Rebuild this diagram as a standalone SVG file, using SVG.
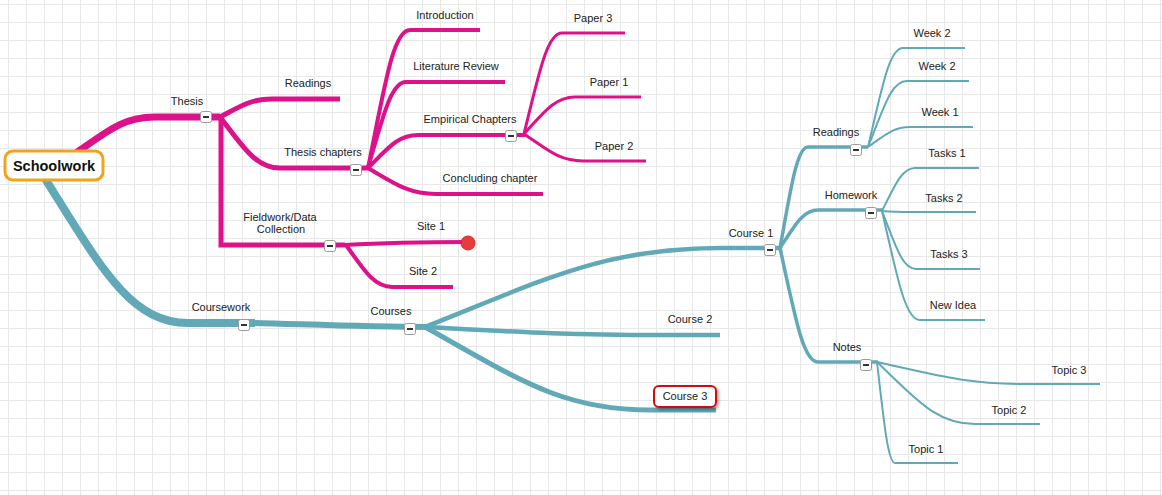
<svg xmlns="http://www.w3.org/2000/svg" width="1162" height="495" viewBox="0 0 1162 495">
<style>
.lbl{font-family:"Liberation Sans",Arial,sans-serif;font-size:11px;fill:#222;text-anchor:middle}
.m{fill:none;stroke:#dd1189;stroke-linecap:butt}
.t{fill:none;stroke:#62a9b7;stroke-linecap:butt}
</style>
<defs>
<pattern id="grid" patternUnits="userSpaceOnUse" x="8" y="4" width="18" height="18">
<path d="M0 0.5H18M0.5 0V18" fill="none" stroke="#e8e8e8" stroke-width="1"/>
</pattern>
<filter id="sh" x="-20%" y="-40%" width="150%" height="190%">
<feDropShadow dx="2" dy="2" stdDeviation="1.5" flood-color="#000" flood-opacity="0.35"/>
</filter>
<g id="b"><rect x="-5.5" y="-5.5" width="11" height="11" rx="2" fill="#fff" stroke="#9a9a9a" stroke-width="1"/><path d="M-3 0H3" stroke="#333" stroke-width="2"/></g>
</defs>
<rect width="1162" height="495" fill="#fff"/>
<rect width="1162" height="495" fill="url(#grid)"/>

<g id="connectors">
<path class="m" stroke-width="7" d="M76 153C109 130 124 117 155 117H220"/>
<path class="m" stroke-width="5" d="M220 117C241 106 251 99 272 99H340"/>
<path class="m" stroke-width="5" d="M220 117C244 148 256 168 280 168H370"/>
<path class="m" stroke-width="5" d="M221 117V245H345"/>
<path class="m" stroke-width="4" d="M368 168C385 85 393 30 410 30H480"/>
<path class="m" stroke-width="4" d="M368 168C383 116 391 82 406 82H505"/>
<path class="m" stroke-width="4" d="M368 168C388 148 398 135 418 135H525"/>
<path class="m" stroke-width="4" d="M368 168C395 184 409 194 436 194H543"/>
<path class="m" stroke-width="3" d="M524 134C539 73 547 33 562 33H625"/>
<path class="m" stroke-width="3" d="M524 134C544 112 555 97 575 97H641"/>
<path class="m" stroke-width="3" d="M524 134C548 150 559 161 583 161H646"/>
<path class="m" stroke-width="4" d="M345 245C380 243 400 242 468 242"/>
<path class="m" stroke-width="4" d="M346 245C364 270 374 287 392 287H453"/>

<path class="t" stroke-width="8" d="M44 177C100 266 130 323 188 323H255"/>
<path class="t" stroke-width="6" d="M255 323C300 324 360 327 430 327"/>
<path class="t" stroke-width="4.5" d="M425 327C544 280 603 248 722 248H780"/>
<path class="t" stroke-width="4.5" d="M425 327C519 332 566 335 660 335H720"/>
<path class="t" stroke-width="5" d="M425 327C515 377 560 410 650 410H716"/>
<path class="t" stroke-width="3.5" d="M780 248C791 187 797 147 808 147H868"/>
<path class="t" stroke-width="3.5" d="M780 248C795 225 803 210 818 210H882"/>
<path class="t" stroke-width="3.5" d="M780 248C795 316 803 362 818 362H878"/>
<path class="t" stroke-width="2" d="M868 147C882 88 889 48 903 48H965"/>
<path class="t" stroke-width="2" d="M868 147C884 107 891 81 907 81H969"/>
<path class="t" stroke-width="2" d="M868 147C885 135 893 127 910 127H973"/>
<path class="t" stroke-width="2" d="M882 211C895 185 902 168 915 168H979"/>
<path class="t" stroke-width="2" d="M882 211C894 212 900 212 912 212H976"/>
<path class="t" stroke-width="2" d="M882 211C896 246 902 269 916 269H980"/>
<path class="t" stroke-width="2" d="M882 211C897 276 905 320 920 320H985"/>
<path class="t" stroke-width="2" d="M877 362C936 375 966 384 1025 384H1100"/>
<path class="t" stroke-width="2" d="M877 362C916 399 936 424 975 424H1040"/>
<path class="t" stroke-width="2" d="M877 362C884 423 888 463 895 463H958"/>
</g>

<g id="schoolwork">
<rect x="5" y="151" width="98" height="29" rx="8" fill="#fff" stroke="#f0a31c" stroke-width="3"/>
<text x="54" y="171" font-family="'Liberation Sans',Arial,sans-serif" font-size="14.5" font-weight="bold" fill="#111" text-anchor="middle">Schoolwork</text>
</g>
<g id="thesis"><text class="lbl" x="187" y="105">Thesis</text><use href="#b" x="206" y="117"/></g>
<g id="readings-thesis"><text class="lbl" x="308" y="87">Readings</text></g>
<g id="thesis-chapters"><text class="lbl" x="323" y="156">Thesis chapters</text><use href="#b" x="356" y="170"/></g>
<g id="fieldwork"><text class="lbl" x="280" y="221">Fieldwork/Data</text><text class="lbl" x="281" y="233">Collection</text><use href="#b" x="330" y="246"/></g>
<g id="introduction"><text class="lbl" x="445" y="19">Introduction</text></g>
<g id="literature-review"><text class="lbl" x="456" y="70">Literature Review</text></g>
<g id="empirical"><text class="lbl" x="470" y="123">Empirical Chapters</text><use href="#b" x="511" y="136"/></g>
<g id="concluding"><text class="lbl" x="490" y="182">Concluding chapter</text></g>
<g id="paper3"><text class="lbl" x="593" y="22">Paper 3</text></g>
<g id="paper1"><text class="lbl" x="609" y="86">Paper 1</text></g>
<g id="paper2"><text class="lbl" x="614" y="150">Paper 2</text></g>
<g id="site1"><text class="lbl" x="431" y="230">Site 1</text><circle cx="468" cy="243" r="7" fill="#e83c3c" stroke="#d02828" stroke-width="1"/></g>
<g id="site2"><text class="lbl" x="423" y="275">Site 2</text></g>

<g id="coursework"><text class="lbl" x="221" y="311">Coursework</text><use href="#b" x="244" y="325"/></g>
<g id="courses"><text class="lbl" x="391" y="315">Courses</text><use href="#b" x="410" y="329"/></g>
<g id="course1"><text class="lbl" x="751" y="237">Course 1</text><use href="#b" x="770" y="250"/></g>
<g id="course2"><text class="lbl" x="690" y="323">Course 2</text></g>
<g id="course3"><rect x="654" y="386" width="62" height="21" rx="5" fill="#fff" stroke="#d01010" stroke-width="2" filter="url(#sh)"/><text class="lbl" x="685" y="400">Course 3</text></g>
<g id="readings-course"><text class="lbl" x="836" y="136">Readings</text><use href="#b" x="856" y="150"/></g>
<g id="homework"><text class="lbl" x="851" y="199">Homework</text><use href="#b" x="871" y="213"/></g>
<g id="notes"><text class="lbl" x="847" y="351">Notes</text><use href="#b" x="866" y="365"/></g>
<g id="week2a"><text class="lbl" x="932" y="37">Week 2</text></g>
<g id="week2b"><text class="lbl" x="937" y="70">Week 2</text></g>
<g id="week1"><text class="lbl" x="940" y="116">Week 1</text></g>
<g id="tasks1"><text class="lbl" x="947" y="157">Tasks 1</text></g>
<g id="tasks2"><text class="lbl" x="944" y="202">Tasks 2</text></g>
<g id="tasks3"><text class="lbl" x="949" y="258">Tasks 3</text></g>
<g id="new-idea"><text class="lbl" x="953" y="309">New Idea</text></g>
<g id="topic3"><text class="lbl" x="1069" y="374">Topic 3</text></g>
<g id="topic2"><text class="lbl" x="1009" y="414">Topic 2</text></g>
<g id="topic1"><text class="lbl" x="926" y="453">Topic 1</text></g>
</svg>
